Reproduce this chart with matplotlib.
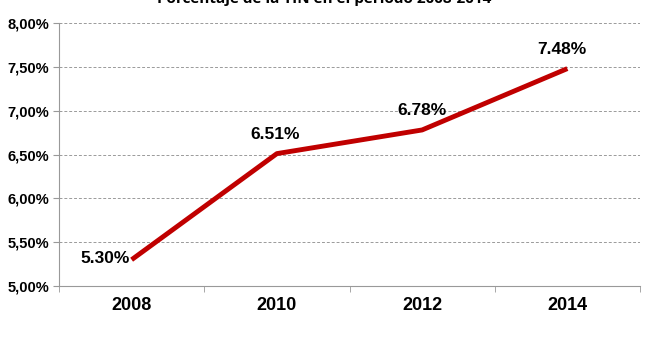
import matplotlib.pyplot as plt
from matplotlib.ticker import FixedLocator

anios = ["2008", "2010", "2012", "2014"]
tin = [5.30, 6.51, 6.78, 7.48]
y_ticks = [5.0, 5.5, 6.0, 6.5, 7.0, 7.5, 8.0]

plt.rcParams['font.family'] = ['Liberation Sans', 'DejaVu Sans']

fig = plt.figure(figsize=(6.49, 3.49), dpi=100)
ax = fig.add_axes([59 / 649, 1 - 286 / 349, 581 / 649, 263 / 349])

x = list(range(len(anios)))
ax.plot(x, tin, color="#C00000", linewidth=3.5, solid_capstyle="butt", zorder=3)

ax.set_xlim(-0.5, 3.5)
ax.set_ylim(5.0, 8.0)
ax.set_yticks(y_ticks)
ax.set_yticklabels([("%.2f%%" % v).replace(".", ",") for v in y_ticks],
                   fontsize=10.5, fontweight="bold")
ax.set_xticks(x)
ax.set_xticklabels(anios, fontsize=13, fontweight="bold")
ax.tick_params(axis="x", length=0, pad=8)
ax.xaxis.set_minor_locator(FixedLocator([-0.5, 0.5, 1.5, 2.5, 3.5]))
ax.tick_params(axis="x", which="minor", length=4, color="#999999")
ax.tick_params(axis="y", length=4, color="#999999", pad=3)

ax.grid(axis="y", linestyle=(0, (3, 2)), color="#9a9a9a", linewidth=0.7)
ax.set_axisbelow(True)
for s in ["top", "right"]:
    ax.spines[s].set_visible(False)
ax.spines["left"].set_color("#999999")
ax.spines["bottom"].set_color("#999999")

# etiquetas
offsets = [(-19, 1), (-1, 14), (0, 14), (-4, 14)]
for i, v in enumerate(tin):
    ax.annotate("%.2f%%" % v, (x[i], v), xytext=offsets[i], textcoords="offset points",
                ha="center", va="center", fontsize=12.5, fontweight="bold")

fig.text(0.5, 1 - 3 / 349, "Porcentaje de la TIN en el periodo 2008-2014",
         ha="center", va="baseline", fontsize=11, fontweight="bold", family=["Open Sans", "DejaVu Sans"])

fig.savefig("out.png", dpi=100)
